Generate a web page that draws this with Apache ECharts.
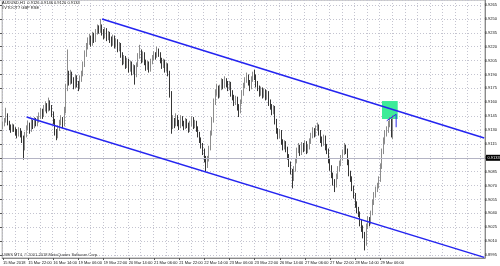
<!DOCTYPE html>
<html><head><meta charset="utf-8">
<script src="https://cdn.jsdelivr.net/npm/echarts@6/dist/echarts.min.js"></script>
<style>html,body{margin:0;padding:0;background:#fff}#c{width:500px;height:266px}</style>
</head><body><div id="c"></div>
<script>
// ---- texts ----
const headerLine = 'AUDUSD,H1  0.9126 0.9146 0.9120 0.9133';
const subLine = '#VTOOT7 GBP RSE';
const copyright = 'LMES MT4, \u00a9 2001-2018 MetaQuotes Software Corp.';
// ---- x tick labels (every 16 bars) ----
const tickLabels = ['15 Mar 2018','15 Mar 22:00','16 Mar 14:00','19 Mar 06:00','19 Mar 22:00','20 Mar 14:00','21 Mar 06:00','21 Mar 22:00','22 Mar 14:00','23 Mar 06:00','23 Mar 22:00','26 Mar 14:00','27 Mar 06:00','27 Mar 22:00','28 Mar 14:00','29 Mar 06:00'];
const tickEvery = 16;
const gridEvery = 8;
const totalSlots = 307;
// ---- y ticks ----
const yTickStart = 0.8995;
const yTickStep = 0.0015;
const dataMin = 0.89918;
const dataMax = 0.92704;
// ---- OHLC in pips (x10000) ----
const opens = [9134,9136,9140,9146,9138,9133,9130,9134,9131,9128,
9126,9130,9127,9122,9112,9125,9132,9136,9130,9138,
9134,9140,9137,9141,9145,9150,9146,9153,9157,9152,
9160,9155,9148,9140,9128,9124,9132,9138,9142,9136,
9150,9176,9188,9182,9190,9184,9178,9186,9180,9176,
9185,9190,9200,9212,9220,9226,9230,9224,9233,9228,
9236,9240,9238,9242,9236,9232,9238,9230,9234,9228,
9224,9230,9222,9226,9218,9222,9212,9204,9208,9200,
9205,9196,9202,9194,9198,9190,9200,9210,9215,9206,
9212,9204,9198,9202,9196,9204,9208,9212,9210,9216,
9212,9206,9200,9204,9196,9200,9192,9170,9135,9140,
9136,9144,9138,9134,9142,9138,9134,9140,9136,9131,
9137,9142,9135,9138,9132,9126,9120,9114,9108,9100,
9092,9098,9110,9126,9140,9160,9170,9176,9168,9176,
9182,9178,9184,9180,9176,9180,9170,9166,9160,9164,
9155,9150,9160,9170,9178,9184,9188,9182,9176,9185,
9190,9188,9180,9176,9170,9174,9168,9172,9166,9170,
9160,9156,9150,9154,9140,9130,9124,9128,9118,9112,
9116,9110,9102,9094,9086,9078,9088,9096,9108,9112,
9106,9114,9110,9116,9108,9112,9118,9124,9130,9126,
9132,9134,9128,9120,9116,9122,9112,9108,9098,9090,
9082,9074,9070,9080,9088,9094,9100,9106,9112,9108,
9096,9084,9078,9068,9060,9050,9044,9040,9030,9024,
9018,9008,9026,9034,9030,9040,9052,9060,9066,9070,
9076,9090,9106,9118,9126,9130,9136,9140,9126];
const closes = [9136,9140,9146,9138,9133,9130,9134,9131,9128,9126,
9130,9127,9122,9112,9125,9132,9136,9130,9138,9134,
9140,9137,9141,9145,9150,9146,9153,9157,9152,9160,
9155,9148,9140,9128,9124,9132,9138,9142,9136,9150,
9176,9188,9182,9190,9184,9178,9186,9180,9176,9185,
9190,9200,9212,9220,9226,9230,9224,9233,9228,9236,
9240,9238,9242,9236,9232,9238,9230,9234,9228,9224,
9230,9222,9226,9218,9222,9212,9204,9208,9200,9205,
9196,9202,9194,9198,9190,9200,9210,9215,9206,9212,
9204,9198,9202,9196,9204,9208,9212,9210,9216,9212,
9206,9200,9204,9196,9200,9192,9170,9135,9140,9136,
9144,9138,9134,9142,9138,9134,9140,9136,9131,9137,
9142,9135,9138,9132,9126,9120,9114,9108,9100,9092,
9098,9110,9126,9140,9160,9170,9176,9168,9176,9182,
9178,9184,9180,9176,9180,9170,9166,9160,9164,9155,
9150,9160,9170,9178,9184,9188,9182,9176,9185,9190,
9188,9180,9176,9170,9174,9168,9172,9166,9170,9160,
9156,9150,9154,9140,9130,9124,9128,9118,9112,9116,
9110,9102,9094,9086,9078,9088,9096,9108,9112,9106,
9114,9110,9116,9108,9112,9118,9124,9130,9126,9132,
9134,9128,9120,9116,9122,9112,9108,9098,9090,9082,
9074,9070,9080,9088,9094,9100,9106,9112,9108,9096,
9084,9078,9068,9060,9050,9044,9040,9030,9024,9018,
9008,9026,9034,9030,9040,9052,9060,9066,9070,9076,
9090,9106,9118,9126,9130,9136,9140,9126,9133];
const highs = [9139,9143,9154,9148,9140,9136,9137,9136,9133,9131,
9133,9132,9129,9124,9128,9135,9140,9138,9142,9141,
9144,9143,9145,9149,9154,9153,9157,9161,9159,9165,
9162,9157,9150,9142,9131,9135,9141,9146,9144,9155,
9180,9217,9194,9195,9193,9187,9190,9189,9183,9189,
9194,9204,9216,9224,9230,9234,9232,9236,9235,9239,
9244,9243,9250,9244,9239,9241,9240,9237,9236,9231,
9233,9232,9229,9228,9225,9224,9214,9211,9210,9208,
9207,9205,9204,9201,9200,9203,9213,9222,9217,9215,
9214,9206,9205,9204,9207,9211,9215,9214,9220,9218,
9214,9208,9207,9206,9203,9202,9194,9172,9146,9143,
9148,9146,9141,9146,9145,9140,9143,9142,9138,9140,
9145,9144,9141,9140,9134,9128,9122,9116,9110,9102,
9102,9113,9129,9144,9164,9174,9180,9178,9179,9186,
9185,9188,9186,9183,9183,9182,9173,9168,9167,9166,
9158,9163,9173,9181,9187,9192,9190,9184,9188,9193,
9195,9190,9183,9178,9177,9176,9175,9174,9173,9172,
9163,9158,9157,9156,9142,9132,9131,9130,9120,9119,
9118,9112,9104,9096,9088,9091,9099,9111,9116,9114,
9117,9116,9119,9118,9115,9121,9127,9133,9132,9135,
9138,9136,9130,9123,9125,9124,9115,9110,9100,9092,
9084,9077,9083,9091,9097,9103,9109,9116,9114,9110,
9098,9086,9080,9070,9062,9053,9047,9042,9033,9027,
9020,9029,9037,9036,9043,9055,9063,9069,9073,9080,
9094,9110,9122,9130,9134,9140,9144,9142,9146];
const lows = [9131,9134,9138,9135,9130,9127,9128,9128,9124,9121,
9123,9122,9116,9098,9108,9122,9130,9126,9128,9131,
9132,9134,9134,9138,9142,9142,9144,9150,9148,9150,
9151,9144,9136,9124,9119,9121,9129,9135,9132,9134,
9148,9172,9178,9179,9180,9174,9175,9176,9172,9174,
9182,9188,9198,9209,9217,9222,9220,9221,9224,9225,
9233,9234,9235,9232,9228,9229,9226,9227,9224,9220,
9221,9218,9219,9214,9215,9208,9200,9201,9196,9197,
9192,9193,9189,9190,9179,9187,9198,9207,9202,9203,
9200,9194,9195,9192,9193,9201,9205,9206,9208,9209,
9202,9196,9197,9192,9193,9188,9165,9126,9131,9132,
9134,9134,9130,9132,9134,9130,9131,9132,9127,9128,
9134,9131,9132,9128,9122,9116,9110,9103,9095,9085,
9089,9096,9108,9124,9138,9157,9167,9164,9165,9173,
9174,9175,9176,9172,9173,9166,9162,9156,9157,9151,
9144,9148,9158,9167,9175,9181,9178,9172,9174,9182,
9184,9176,9172,9166,9167,9164,9165,9162,9163,9156,
9152,9146,9147,9136,9126,9120,9121,9114,9108,9109,
9106,9098,9090,9082,9067,9075,9085,9094,9105,9102,
9103,9106,9107,9104,9105,9109,9115,9121,9122,9123,
9129,9124,9116,9112,9113,9108,9104,9094,9086,9078,
9070,9063,9068,9077,9085,9091,9097,9103,9104,9092,
9080,9074,9064,9056,9046,9040,9036,9026,9020,9013,
9000,9005,9023,9026,9028,9038,9049,9057,9063,9067,
9074,9088,9104,9115,9123,9127,9133,9122,9120];
// ---- drawn objects (bar index, price) ----
const upperChannel = [[63, 0.92499], [306, 0.91214]];
const lowerChannel = [[15, 0.91440], [306, 0.89925]];
const arrowPath = [[244, 0.9140], [250, 0.9147], [250, 0.9133]];
const redLevel = 0.9261;
const bidPrice = 0.9133;
const boxFrom = 241, boxTo = 251, boxTop = 0.91613, boxBottom = 0.91419;

const FONT = '"Liberation Sans", Arial, sans-serif';
const P = v => v / 10000;
const slots = Array.from({length: totalSlots}, (_, i) => String(i));
const candles = closes.map((c, i) => [P(opens[i]), P(c), P(lows[i]), P(highs[i])]);
const isTick = i => i % tickEvery === 0 && i / tickEvery < tickLabels.length;

const chart = echarts.init(document.getElementById('c'), null, {renderer: 'canvas'});
chart.setOption({
  animation: false,
  backgroundColor: '#ffffff',
  grid: [
    {left: 0, right: 15, top: 0, bottom: 8, show: true, borderColor: '#a0a0a0', borderWidth: 1, backgroundColor: 'transparent'},
    {left: 0, right: 15, top: 0, bottom: 11}
  ],
  xAxis: [
    {type: 'category', gridIndex: 0, data: slots, boundaryGap: true,
     axisLine: {show: true, lineStyle: {color: '#8a8a8a'}},
     axisTick: {show: true, alignWithLabel: true, length: 2, interval: isTick, lineStyle: {color: '#555'}},
     axisLabel: {show: true, interval: isTick, formatter: (v, i) => tickLabels[i / tickEvery] || '',
                 fontSize: 4, fontFamily: FONT, color: '#111', align: 'left', margin: 3},
     splitLine: {show: true, interval: i => i % gridEvery === 0, lineStyle: {color: '#c4c4d0', type: [1, 2], width: 1}}},
    {type: 'value', gridIndex: 1, show: false, min: 0, max: 1}
  ],
  yAxis: [
    {type: 'value', gridIndex: 0, position: 'right', min: dataMin, max: dataMax,
     axisLine: {show: true, lineStyle: {color: '#8a8a8a'}}, axisTick: {show: false},
     axisLabel: {show: false}, splitLine: {show: false}},
    {type: 'value', gridIndex: 1, position: 'right', min: yTickStart, max: dataMax, interval: yTickStep,
     axisLine: {show: false}, axisTick: {show: true, length: 2, lineStyle: {color: '#555'}},
     axisLabel: {show: true, fontSize: 4, fontFamily: FONT, color: '#111', margin: 2, showMaxLabel: false,
                 formatter: v => v.toFixed(4)},
     splitLine: {show: true, lineStyle: {color: '#c4c4d0', type: [1, 2], width: 1}}}
  ],
  graphic: [
    {type: 'text', left: 2, top: 1, z: 100, style: {text: headerLine, font: '4px ' + FONT, fill: '#111'}},
    {type: 'text', left: 2, top: 5.5, z: 100, style: {text: subLine, font: '4px ' + FONT, fill: '#111'}},
    {type: 'text', left: 2, top: 253, z: 100, style: {text: copyright, font: '4px ' + FONT, fill: '#333'}}
  ],
  series: [
    {type: 'line', xAxisIndex: 0, yAxisIndex: 0, data: [], z: 1, silent: true,
     markArea: {silent: true, itemStyle: {color: '#3cec98', opacity: 1},
       data: [[{xAxis: boxFrom, yAxis: boxTop}, {xAxis: boxTo, yAxis: boxBottom}]]},
     markLine: {silent: true, symbol: ['none', 'none'], animation: false,
       data: [
         {yAxis: redLevel, lineStyle: {color: '#e86a6a', type: [4, 2, 1, 2], width: 1}, label: {show: false}},
         {yAxis: bidPrice, lineStyle: {color: '#b4b4c4', type: 'solid', width: 1},
          label: {show: true, position: 'end', distance: 1, formatter: bidPrice.toFixed(4),
                  backgroundColor: '#000', color: '#fff', fontSize: 4, fontFamily: FONT, padding: [1, 1.5]}}
       ]}},
    {type: 'candlestick', xAxisIndex: 0, yAxisIndex: 0, data: candles, barWidth: 1, z: 3,
     itemStyle: {color: '#bcbcbc', color0: '#363636', borderColor: '#8c8c8c', borderColor0: '#363636', borderWidth: 1}},
    {type: 'line', xAxisIndex: 0, yAxisIndex: 0, data: upperChannel, symbol: 'none', z: 5,
     lineStyle: {color: '#2424f0', width: 1.5}},
    {type: 'line', xAxisIndex: 0, yAxisIndex: 0, data: lowerChannel, symbol: 'none', z: 5,
     lineStyle: {color: '#2424f0', width: 1.5}},
    {type: 'line', xAxisIndex: 0, yAxisIndex: 0, data: arrowPath, symbol: 'none', z: 6,
     lineStyle: {color: '#2a2ae8', width: 1}}
  ]
});
</script></body></html>
